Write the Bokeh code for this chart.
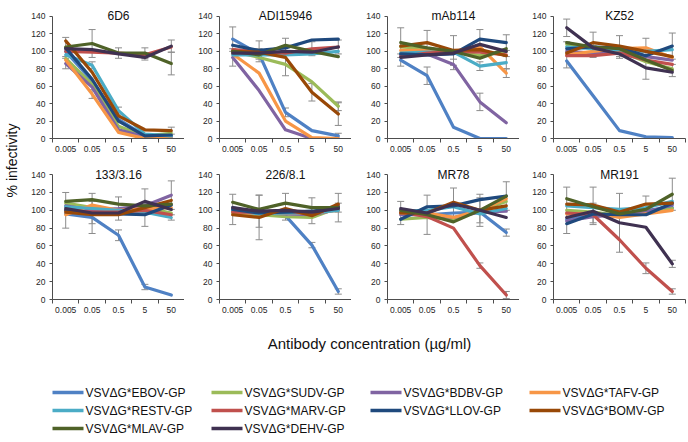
import math
from bokeh.plotting import figure
from bokeh.layouts import row, column
from bokeh.models import (ColumnDataSource, Whisker, TeeHead, FixedTicker,
                          Label, Range1d)
from bokeh.embed import file_html
from bokeh.resources import INLINE
from bokeh.core.properties import value

FONT = "Liberation Sans"

concentrations = ["0.005", "0.05", "0.5", "5", "50"]
viruses = ["EBOV", "SUDV", "BDBV", "TAFV", "RESTV",
           "MARV", "LLOV", "BOMV", "MLAV", "DEHV"]
virus_colors = ["#4f81c4", "#9bbb59", "#8064a2", "#f79646", "#4bacc6",
                "#c0504d", "#1f497d", "#984807", "#4f6228", "#3f3151"]
antibodies = ["6D6", "ADI15946", "mAb114", "KZ52",
              "133/3.16", "226/8.1", "MR78", "MR191"]

# % infectivity, one row per virus (same order as `viruses`)
inf_6D6 = [
    [100, 66, 22, 3, 3], [92, 62, 14, 3, 6], [86, 59, 10, 2, 2],
    [90, 51, 7, 0, 0], [96, 84, 32, 5, 3], [100, 99, 98, 96, 105],
    [104, 68, 20, 3, 4], [112, 76, 26, 10, 9], [105, 109, 98, 98, 86],
    [103, 102, 97, 93, 106],
]
inf_ADI15946 = [
    [114, 97, 30, 9, 3], [100, 93, 85, 65, 37], [93, 55, 10, 0, 0],
    [97, 75, 20, 1, 0], [96, 96, 96, 97, 100], [102, 100, 98, 103, 105],
    [107, 101, 104, 113, 114], [100, 99, 93, 53, 28], [100, 96, 107, 100, 94],
    [98, 98, 100, 99, 105],
]
inf_mAb114 = [
    [90, 72, 13, 0, 0], [105, 103, 100, 95, 100], [96, 97, 85, 42, 18],
    [101, 101, 100, 105, 75], [98, 99, 99, 83, 87], [94, 98, 100, 99, 96],
    [97, 96, 97, 114, 110], [106, 110, 101, 102, 95], [110, 104, 100, 92, 103],
    [93, 96, 98, 108, 100],
]
inf_KZ52 = [
    [89, 49, 9, 2, 1], [108, 103, 100, 88, 80], [100, 98, 98, 94, 90],
    [96, 100, 103, 104, 93], [105, 103, 102, 100, 102], [95, 95, 98, 90, 85],
    [103, 105, 104, 95, 106], [98, 110, 106, 100, 94], [110, 105, 103, 90, 78],
    [127, 104, 97, 81, 76],
]
inf_133_3_16 = [
    [96, 92, 72, 14, 5], [108, 103, 100, 103, 97], [105, 100, 102, 105, 117],
    [95, 106, 100, 102, 103], [104, 102, 100, 98, 92], [100, 98, 98, 100, 95],
    [100, 96, 96, 95, 106], [98, 95, 95, 103, 111], [110, 112, 107, 105, 107],
    [102, 97, 97, 110, 101],
]
inf_226_8_1 = [
    [103, 96, 94, 61, 9], [97, 95, 93, 92, 103], [99, 97, 96, 95, 101],
    [98, 96, 97, 97, 100], [100, 96, 97, 97, 100], [98, 98, 100, 95, 105],
    [101, 97, 98, 99, 104], [95, 92, 102, 94, 107], [109, 101, 108, 103, 103],
    [103, 99, 100, 98, 102],
]
inf_MR78 = [
    [100, 95, 97, 98, 75], [90, 92, 90, 100, 110], [95, 95, 92, 98, 99],
    [97, 97, 92, 100, 113], [99, 100, 104, 96, 102], [98, 93, 80, 38, 5],
    [90, 104, 105, 112, 116], [97, 97, 109, 100, 105], [100, 95, 87, 100, 116],
    [102, 97, 107, 100, 92],
]
inf_MR191 = [
    [90, 96, 93, 100, 103], [100, 98, 94, 97, 102], [88, 93, 95, 98, 106],
    [96, 97, 92, 96, 100], [105, 103, 101, 103, 110], [97, 95, 67, 35, 9],
    [85, 96, 95, 95, 108], [107, 106, 98, 107, 108], [113, 104, 96, 101, 118],
    [92, 99, 86, 81, 40],
]

# standard deviations shown as error bars: (virus, concentration index, sd)
sd_6D6 = [("MLAV", 0, 11), ("BDBV", 0, 6), ("MLAV", 1, 16), ("TAFV", 1, 5),
          ("RESTV", 1, 4), ("MLAV", 2, 6), ("RESTV", 2, 4), ("MLAV", 3, 6),
          ("DEHV", 3, 3), ("MLAV", 4, 13), ("DEHV", 4, 7), ("BOMV", 4, 4)]
sd_ADI15946 = [("EBOV", 0, 14), ("BDBV", 0, 10), ("MARV", 1, 12),
               ("EBOV", 1, 6), ("SUDV", 2, 13), ("MLAV", 2, 8), ("EBOV", 2, 5),
               ("BOMV", 3, 10), ("MARV", 3, 8), ("BOMV", 4, 13),
               ("SUDV", 4, 5), ("MARV", 4, 8), ("EBOV", 4, 3)]
sd_mAb114 = [("MLAV", 0, 17), ("EBOV", 0, 7), ("BOMV", 1, 14), ("EBOV", 1, 10),
             ("BOMV", 2, 17), ("BDBV", 2, 6), ("LLOV", 3, 11), ("BDBV", 3, 10),
             ("RESTV", 3, 5), ("LLOV", 4, 9), ("TAFV", 4, 5), ("RESTV", 4, 7)]
sd_KZ52 = [("DEHV", 0, 10), ("TAFV", 0, 15), ("BOMV", 1, 12), ("TAFV", 1, 7),
           ("BOMV", 2, 12), ("BDBV", 2, 6), ("TAFV", 3, 11), ("DEHV", 3, 13),
           ("LLOV", 4, 15), ("MLAV", 4, 7)]
sd_133_3_16 = [("LLOV", 0, 20), ("MLAV", 1, 7), ("EBOV", 1, 18),
               ("BOMV", 1, 10), ("EBOV", 2, 6), ("BDBV", 2, 13),
               ("DEHV", 3, 14), ("LLOV", 3, 13), ("EBOV", 3, 3),
               ("BDBV", 4, 16), ("RESTV", 4, 3)]
sd_226_8_1 = [("LLOV", 0, 17), ("BOMV", 1, 25), ("DEHV", 1, 18),
              ("MLAV", 2, 11), ("SUDV", 2, 4), ("MLAV", 3, 11), ("BOMV", 3, 9),
              ("EBOV", 3, 3), ("MLAV", 4, 16), ("SUDV", 4, 5), ("EBOV", 4, 3)]
sd_MR78 = [("BOMV", 0, 13), ("EBOV", 1, 22), ("BOMV", 2, 16), ("MLAV", 3, 18),
           ("TAFV", 3, 14), ("MARV", 3, 3), ("LLOV", 4, 16), ("EBOV", 4, 4),
           ("MARV", 4, 4)]
sd_MR191 = [("SUDV", 0, 26), ("BOMV", 1, 20), ("LLOV", 1, 12), ("DEHV", 2, 33),
            ("BOMV", 3, 9), ("MARV", 3, 6), ("MLAV", 4, 18), ("DEHV", 4, 4),
            ("MARV", 4, 3)]

panel_values = [inf_6D6, inf_ADI15946, inf_mAb114, inf_KZ52,
                inf_133_3_16, inf_226_8_1, inf_MR78, inf_MR191]
panel_sds = [sd_6D6, sd_ADI15946, sd_mAb114, sd_KZ52,
             sd_133_3_16, sd_226_8_1, sd_MR78, sd_MR191]

y_ticks = [0, 20, 40, 60, 80, 100, 120, 140]
Y_MAX = 140
Y_HEADROOM = 148   # room above the axis for the panel name

AXIS_COLOR = "#4d4d4d"
LABEL_COLOR = "#262626"
ERR_COLOR = "#8c8c8c"

left_borders = [30, 35, 36, 34]
right_borders = [0, 0, 0, 3]


def make_panel(idx):
    col = idx % 4
    top_row = idx < 4
    p = figure(frame_width=132, frame_height=129 if top_row else 132,
               min_border_left=left_borders[col],
               min_border_right=right_borders[col],
               min_border_top=9, min_border_bottom=20,
               x_range=Range1d(-0.5, 4.5), y_range=Range1d(0, Y_HEADROOM),
               toolbar_location=None, output_backend="svg",
               background_fill_color="white", border_fill_color="white")
    p.outline_line_color = None
    p.grid.visible = False

    xs = list(range(len(concentrations)))
    for name, color, vals in zip(viruses, virus_colors, panel_values[idx]):
        p.line(xs, vals, line_color=color, line_width=3.2,
               line_join="round", line_cap="round")

    # error bars
    values = panel_values[idx]
    bx, up, lo = [], [], []
    for name, ci, sd in panel_sds[idx]:
        v = values[viruses.index(name)][ci]
        bx.append(ci)
        up.append(v + sd)
        lo.append(max(v - sd, 0))
    src = ColumnDataSource(dict(x=bx, upper=up, lower=lo))
    w = Whisker(base="x", upper="upper", lower="lower", source=src,
                line_color=ERR_COLOR, line_width=1,
                upper_head=TeeHead(size=7, line_color=ERR_COLOR, line_width=1),
                lower_head=TeeHead(size=7, line_color=ERR_COLOR, line_width=1))
    p.add_layout(w)

    # panel name sits on the top of the value axis
    p.add_layout(Label(x=2, y=Y_MAX, text=antibodies[idx], text_align="center",
                       text_baseline="middle", text_font=FONT,
                       text_font_size="12px", text_color="#111111"))

    xa = p.xaxis[0]
    xa.ticker = FixedTicker(ticks=xs,
                            minor_ticks=[i - 0.5 for i in range(len(xs) + 1)])
    xa.major_label_overrides = {i: c for i, c in enumerate(concentrations)}
    xa.major_tick_line_color = None
    xa.major_tick_out = 0
    xa.major_tick_in = 0
    xa.minor_tick_out = 4
    xa.minor_tick_in = 0
    xa.minor_tick_line_color = AXIS_COLOR
    xa.major_label_standoff = 3
    xa.axis_line_color = AXIS_COLOR

    ya = p.yaxis[0]
    ya.ticker = FixedTicker(ticks=y_ticks, minor_ticks=[])
    ya.bounds = (0, Y_MAX)
    ya.major_tick_out = 3
    ya.major_tick_in = 0
    ya.major_tick_line_color = AXIS_COLOR
    ya.axis_line_color = AXIS_COLOR
    ya.major_label_standoff = 4

    for ax in (xa, ya):
        ax.major_label_text_font = FONT
        ax.major_label_text_font_size = "8.5px"
        ax.major_label_text_color = LABEL_COLOR
    return p


panels = [make_panel(i) for i in range(8)]

# vertical axis title shared by both rows
ylab = figure(width=22, height=319, x_range=Range1d(0, 22),
              y_range=Range1d(319, 0), toolbar_location=None,
              output_backend="svg", x_axis_location=None,
              y_axis_location=None, min_border=0)
ylab.outline_line_color = None
ylab.grid.visible = False
ylab.text(x=[11], y=[160], text=["% infectivity"], angle=math.pi / 2,
          text_align="center", text_baseline="middle",
          text_font=value(FONT), text_font_size="14px", text_color="#111111")

# shared horizontal axis title and legend
leg = figure(width=688, height=123, x_range=Range1d(0, 688),
             y_range=Range1d(123, 0), toolbar_location=None,
             output_backend="svg", x_axis_location=None,
             y_axis_location=None, min_border=0)
leg.outline_line_color = None
leg.grid.visible = False
leg.text(x=[369], y=[24], text=["Antibody concentration (µg/ml)"],
         text_align="center", text_baseline="middle",
         text_font=value(FONT), text_font_size="15px", text_color="#111111")

n_cols = 4
x0s, x1s, ys, tx, labels = [], [], [], [], []
for i, name in enumerate(viruses):
    r, c = divmod(i, n_cols)
    left = 52 + 159 * c
    y = 73 + 18 * r
    x0s.append(left)
    x1s.append(left + 31)
    ys.append(y)
    tx.append(left + 33)
    labels.append("VSVΔG*%s-GP" % name)
leg.segment(x0=x0s, y0=ys, x1=x1s, y1=ys, line_color=virus_colors,
            line_width=3.5)
leg.text(x=tx, y=ys, text=labels, text_align="left", text_baseline="middle",
         text_font=value(FONT), text_font_size="12px", text_color="#111111")

grid = column(row(*panels[:4]), row(*panels[4:]))
layout = column(row(ylab, grid), leg)

open("out.html", "w").write(file_html(layout, INLINE))
